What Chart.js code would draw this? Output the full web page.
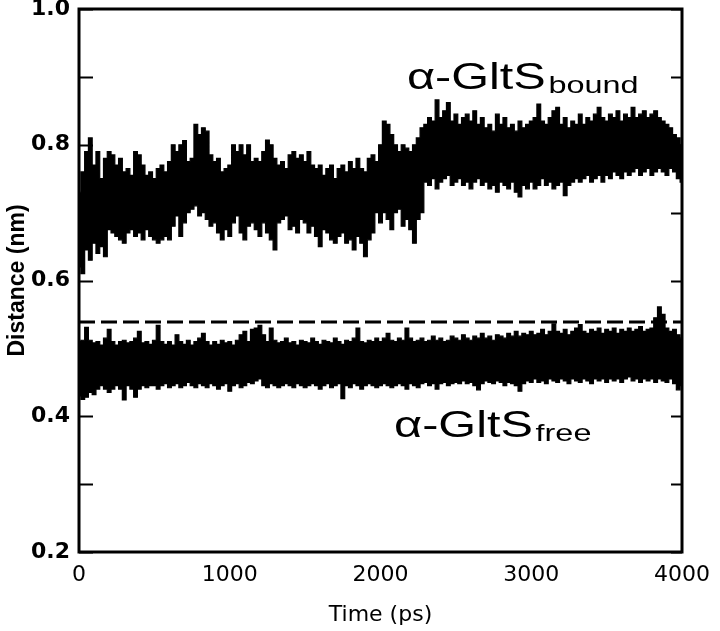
<!DOCTYPE html>
<html>
<head>
<meta charset="utf-8">
<script src="https://cdn.jsdelivr.net/npm/chart.js@4/dist/chart.umd.min.js"></script>
<style>
  html, body { margin: 0; padding: 0; background: #fff; }
  #wrap { width: 720px; height: 631px; }
</style>
</head>
<body>
<div id="wrap"><canvas id="distance-chart" width="720" height="631"></canvas></div>
<script>
// sampling of the traces, ps
const timeStep = 25;

// alpha-GltS bound: upper and lower edge of the noisy band (nm)
const boundUpper = [
  0.73, 0.76, 0.79, 0.81, 0.77, 0.79, 0.75, 0.78, 0.79, 0.785, 0.77, 0.78, 0.76, 0.765, 0.755, 0.79, 0.785, 0.77, 0.755, 0.76,
  0.75, 0.765, 0.77, 0.76, 0.775, 0.80, 0.79, 0.80, 0.806, 0.775, 0.78, 0.83, 0.815, 0.825, 0.82, 0.785, 0.775, 0.78, 0.76, 0.765,
  0.77, 0.80, 0.79, 0.80, 0.785, 0.80, 0.775, 0.78, 0.775, 0.79, 0.807, 0.80, 0.78, 0.77, 0.775, 0.765, 0.785, 0.79, 0.78, 0.785,
  0.775, 0.79, 0.77, 0.765, 0.77, 0.755, 0.765, 0.77, 0.75, 0.765, 0.77, 0.76, 0.775, 0.765, 0.78, 0.765, 0.76, 0.78, 0.785, 0.775,
  0.80, 0.835, 0.83, 0.815, 0.80, 0.79, 0.80, 0.795, 0.79, 0.80, 0.81, 0.825, 0.83, 0.84, 0.835, 0.866, 0.84, 0.85, 0.862, 0.835,
  0.845, 0.83, 0.84, 0.845, 0.835, 0.85, 0.83, 0.84, 0.825, 0.83, 0.82, 0.845, 0.83, 0.84, 0.825, 0.83, 0.82, 0.835, 0.825, 0.83,
  0.835, 0.84, 0.86, 0.835, 0.83, 0.84, 0.85, 0.855, 0.83, 0.84, 0.825, 0.835, 0.83, 0.845, 0.83, 0.84, 0.835, 0.845, 0.855, 0.84,
  0.835, 0.845, 0.84, 0.85, 0.835, 0.845, 0.84, 0.855, 0.84, 0.845, 0.85, 0.84, 0.845, 0.85, 0.84, 0.835, 0.83, 0.825, 0.815, 0.81, 0.80
];
const boundLower = [
  0.62, 0.61, 0.645, 0.63, 0.655, 0.64, 0.65, 0.635, 0.675, 0.67, 0.665, 0.66, 0.655, 0.67, 0.675, 0.665, 0.67, 0.66, 0.675, 0.665,
  0.66, 0.655, 0.66, 0.665, 0.66, 0.68, 0.695, 0.665, 0.685, 0.70, 0.705, 0.71, 0.695, 0.70, 0.69, 0.68, 0.685, 0.67, 0.66, 0.675,
  0.665, 0.685, 0.695, 0.67, 0.66, 0.68, 0.685, 0.675, 0.665, 0.685, 0.67, 0.66, 0.645, 0.685, 0.69, 0.695, 0.675, 0.68, 0.67, 0.69,
  0.685, 0.67, 0.68, 0.665, 0.65, 0.675, 0.67, 0.66, 0.655, 0.665, 0.67, 0.655, 0.66, 0.645, 0.665, 0.655, 0.635, 0.66, 0.67, 0.70,
  0.685, 0.70, 0.69, 0.675, 0.70, 0.705, 0.68, 0.69, 0.675, 0.655, 0.69, 0.70, 0.745, 0.74, 0.75, 0.735, 0.745, 0.75, 0.755, 0.74,
  0.745, 0.75, 0.74, 0.745, 0.735, 0.745, 0.75, 0.74, 0.745, 0.735, 0.74, 0.73, 0.745, 0.74, 0.735, 0.745, 0.73, 0.723, 0.74, 0.735,
  0.745, 0.735, 0.74, 0.75, 0.74, 0.745, 0.735, 0.74, 0.745, 0.725, 0.74, 0.745, 0.75, 0.745, 0.75, 0.755, 0.745, 0.75, 0.755, 0.745,
  0.755, 0.75, 0.76, 0.755, 0.75, 0.76, 0.755, 0.76, 0.765, 0.755, 0.76, 0.765, 0.755, 0.76, 0.765, 0.76, 0.755, 0.765, 0.76, 0.75, 0.745
];

// alpha-GltS free: upper and lower edge of the band (nm)
const freeUpper = [
  0.51, 0.512, 0.531, 0.512, 0.508, 0.51, 0.505, 0.515, 0.528, 0.51, 0.505, 0.51, 0.512, 0.508, 0.51, 0.515, 0.525, 0.508, 0.51, 0.506,
  0.512, 0.534, 0.51, 0.506, 0.51, 0.505, 0.52, 0.51, 0.506, 0.512, 0.505, 0.51, 0.515, 0.522, 0.51, 0.505, 0.51, 0.506, 0.512, 0.508,
  0.51, 0.505, 0.512, 0.52, 0.525, 0.51, 0.528, 0.53, 0.534, 0.52, 0.51, 0.53, 0.512, 0.508, 0.51, 0.515, 0.508, 0.51, 0.505, 0.512,
  0.51, 0.508, 0.515, 0.51, 0.506, 0.512, 0.51, 0.508, 0.515, 0.51, 0.506, 0.512, 0.51, 0.515, 0.53, 0.51, 0.508, 0.512, 0.51, 0.515,
  0.51, 0.515, 0.522, 0.512, 0.51, 0.515, 0.512, 0.53, 0.515, 0.51, 0.512, 0.515, 0.51, 0.512, 0.518, 0.512, 0.515, 0.51, 0.512, 0.518,
  0.515, 0.512, 0.52, 0.515, 0.512, 0.518, 0.515, 0.522, 0.515, 0.518, 0.512, 0.52, 0.518, 0.515, 0.522, 0.518, 0.525, 0.518, 0.522, 0.52,
  0.525, 0.52, 0.522, 0.528, 0.52, 0.525, 0.536, 0.525, 0.522, 0.528, 0.52, 0.525, 0.53, 0.535, 0.525, 0.522, 0.528, 0.525, 0.53, 0.522,
  0.528, 0.525, 0.53, 0.522, 0.528, 0.525, 0.53, 0.525, 0.528, 0.532, 0.525, 0.528, 0.53, 0.545, 0.561, 0.55, 0.53, 0.525, 0.528, 0.52, 0.515
];
const freeLower = [
  0.43, 0.425, 0.428, 0.435, 0.432, 0.44, 0.445, 0.44, 0.435, 0.44, 0.445, 0.44, 0.424, 0.445, 0.44, 0.428, 0.44, 0.445, 0.442, 0.445,
  0.445, 0.44, 0.445, 0.448, 0.442, 0.445, 0.448, 0.442, 0.445, 0.45, 0.445, 0.442, 0.448, 0.445, 0.442, 0.448, 0.445, 0.44, 0.445, 0.448,
  0.437, 0.445, 0.448, 0.442, 0.445, 0.45, 0.448, 0.452, 0.455, 0.445, 0.442, 0.448, 0.445, 0.442, 0.445, 0.448, 0.445, 0.442, 0.448, 0.445,
  0.442, 0.445, 0.448, 0.445, 0.44, 0.445, 0.448, 0.442, 0.445, 0.448, 0.426, 0.445, 0.442, 0.448, 0.445, 0.44, 0.445, 0.448, 0.445, 0.442,
  0.445, 0.448, 0.445, 0.442, 0.445, 0.448, 0.445, 0.44, 0.448, 0.445, 0.442, 0.448, 0.45, 0.445, 0.448, 0.44, 0.448, 0.45, 0.445, 0.448,
  0.45, 0.448, 0.452, 0.448, 0.45, 0.445, 0.439, 0.448, 0.452, 0.45, 0.448, 0.452, 0.45, 0.445, 0.45, 0.448, 0.445, 0.437, 0.448, 0.452,
  0.45, 0.455, 0.45, 0.452, 0.448, 0.455, 0.452, 0.45, 0.455, 0.452, 0.448, 0.455, 0.452, 0.45, 0.455, 0.452, 0.448, 0.455, 0.452, 0.455,
  0.45, 0.455, 0.452, 0.455, 0.45, 0.455, 0.458, 0.452, 0.455, 0.45, 0.455, 0.452, 0.455, 0.45, 0.455, 0.452, 0.45, 0.455, 0.448, 0.439, 0.445
];

// dashed reference level
const refTimes = [0, 4000];
const refLevel = [0.539, 0.539];

// axes
const xTicks = [0, 1000, 2000, 3000, 4000];
const yTicks = [0.2, 0.4, 0.6, 0.8, 1.0];
const yMinorTicks = [0.3, 0.5, 0.7, 0.9];

// curve labels: [main, subscript, time, distance of baseline]
const curveLabels = [
  ["α-GltS", "bound", 2175, 0.882],
  ["α-GltS", "free", 2090, 0.369],
];

const times = boundUpper.map((_, i) => i * timeStep);
const asPoints = (xs, ys) => ys.map((y, i) => ({ x: xs[i], y: y }));

const sansFamily = '"Liberation Sans", Arial, Helvetica, sans-serif';
const wideFamily = '"DejaVu Sans", Verdana, sans-serif';

const bandStyle = {
  borderColor: "#000",
  backgroundColor: "#000",
  borderWidth: 1.2,
  pointRadius: 0,
  stepped: "middle",
};

const framePlugin = {
  id: "frame",
  afterDatasetsDraw(chart) {
    const { ctx, chartArea, scales } = chart;
    const y = scales.y;
    ctx.save();
    ctx.strokeStyle = "#000";
    ctx.lineWidth = 2;
    ctx.beginPath();
    [...yTicks, ...yMinorTicks].forEach((v) => {
      const py = Math.round(y.getPixelForValue(v)) + 0.5;
      ctx.moveTo(chartArea.left, py);
      ctx.lineTo(chartArea.left + 14, py);
      ctx.moveTo(chartArea.right, py);
      ctx.lineTo(chartArea.right - 11, py);
    });
    ctx.stroke();
    ctx.lineWidth = 3;
    ctx.strokeRect(
      chartArea.left,
      chartArea.top,
      chartArea.right - chartArea.left,
      chartArea.bottom - chartArea.top
    );
    ctx.restore();
  },
};

const curveLabelPlugin = {
  id: "curveLabels",
  afterDraw(chart) {
    const { ctx, scales } = chart;
    ctx.save();
    ctx.fillStyle = "#000";
    ctx.textBaseline = "alphabetic";
    curveLabels.forEach(([main, sub, t, v]) => {
      const px = scales.x.getPixelForValue(t);
      const py = scales.y.getPixelForValue(v);
      ctx.save();
      ctx.translate(px, py);
      ctx.scale(1.35, 1);
      ctx.font = "36px " + sansFamily;
      ctx.fillText(main, 0, 0);
      const w = ctx.measureText(main).width;
      ctx.font = "24px " + sansFamily;
      ctx.fillText(sub, w + 2, 4);
      ctx.restore();
    });
    ctx.restore();
  },
};

const ctx = document.getElementById("distance-chart").getContext("2d");

new Chart(ctx, {
  type: "line",
  data: {
    datasets: [
      { ...bandStyle, data: asPoints(times, boundUpper), fill: "+1" },
      { ...bandStyle, data: asPoints(times, boundLower), fill: false },
      { ...bandStyle, data: asPoints(times, freeUpper), fill: "+1" },
      { ...bandStyle, data: asPoints(times, freeLower), fill: false },
      {
        data: asPoints(refTimes, refLevel),
        borderColor: "#000",
        borderWidth: 3,
        borderDash: [16, 6],
        pointRadius: 0,
        fill: false,
      },
    ],
  },
  options: {
    responsive: false,
    animation: false,
    layout: { padding: { left: 0, right: 38, top: 9, bottom: 0 } },
    plugins: {
      legend: { display: false },
      tooltip: { enabled: false },
    },
    scales: {
      x: {
        type: "linear",
        min: 0,
        max: 4000,
        grid: { display: false, drawTicks: false },
        border: { display: false },
        afterBuildTicks: (scale) => {
          scale.ticks = xTicks.map((v) => ({ value: v }));
        },
        afterFit: (scale) => {
          scale.height = 79;
          scale.paddingLeft = 0;
          scale.paddingRight = 0;
        },
        ticks: {
          color: "#000",
          padding: 10,
          maxRotation: 0,
          font: { family: wideFamily, size: 22 },
          callback: (v) => String(v),
        },
        title: {
          display: true,
          text: "Time (ps)",
          color: "#000",
          padding: { top: 0, bottom: 3 },
          font: { family: wideFamily, size: 22 },
        },
      },
      y: {
        type: "linear",
        min: 0.2,
        max: 1.0,
        grid: { display: false, drawTicks: false },
        border: { display: false },
        afterBuildTicks: (scale) => {
          scale.ticks = yTicks.map((v) => ({ value: v }));
        },
        afterFit: (scale) => {
          scale.width = 79;
          scale.paddingTop = 0;
          scale.paddingBottom = 0;
        },
        ticks: {
          color: "#000",
          padding: 9,
          font: { family: wideFamily, size: 22, weight: "bold" },
          callback: (v) => Number(v).toFixed(1),
        },
        title: {
          display: true,
          text: "Distance (nm)",
          color: "#000",
          padding: { top: 4, bottom: 0 },
          font: { family: sansFamily, size: 23, weight: "bold" },
        },
      },
    },
  },
  plugins: [framePlugin, curveLabelPlugin],
});
</script>
</body>
</html>
